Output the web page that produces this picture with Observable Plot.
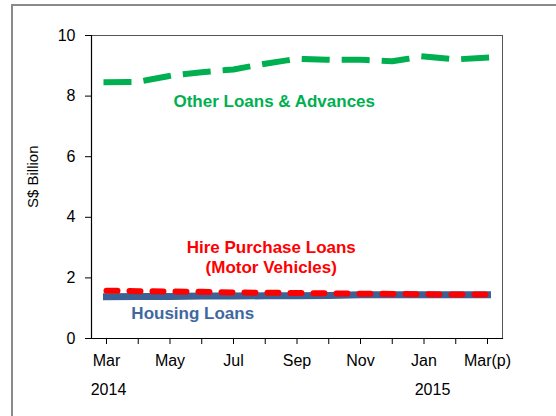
<!DOCTYPE html>
<html>
<head>
<meta charset="utf-8">
<script src="https://cdn.jsdelivr.net/npm/d3@7"></script>
<script src="https://cdn.jsdelivr.net/npm/@observablehq/plot@0.6"></script>
<style>
  html, body { margin: 0; padding: 0; background: #fff; overflow: hidden; }
  #wrap { position: relative; width: 556px; height: 416px; overflow: hidden; }
  #border { position: absolute; left: 11px; top: 4px; width: 620px; height: 520px;
            border: 2px solid #8a8a8a; box-sizing: border-box; }
  #chart { position: absolute; left: 0; top: 0; }
</style>
</head>
<body>
<div id="wrap"><div id="border"></div><div id="chart"></div></div>
<script>
const months = ["Mar","Apr","May","Jun","Jul","Aug","Sep","Oct","Nov","Dec","Jan","Feb","Mar(p)"];
const tickLabels = ["Mar","","May","","Jul","","Sep","","Nov","","Jan","","Mar(p)"];
const otherLoans   = [8.46, 8.47, 8.67, 8.79, 8.88, 9.07, 9.23, 9.20, 9.20, 9.15, 9.31, 9.21, 9.27];
const hirePurchase = [1.58, 1.56, 1.55, 1.54, 1.52, 1.51, 1.50, 1.49, 1.48, 1.47, 1.46, 1.45, 1.45];
const housing      = [1.38, 1.39, 1.39, 1.40, 1.40, 1.41, 1.41, 1.42, 1.44, 1.44, 1.44, 1.44, 1.44];
const yTicks = [0, 2, 4, 6, 8, 10];
const years = ["2014", "2015"];
const yearMonthIndex = [0, 10];

const idx = d3.range(months.length);
const font = "'Liberation Sans', Arial, sans-serif";

const chart = Plot.plot({
  width: 556,
  height: 416,
  marginLeft: 91,
  marginRight: 54,
  marginTop: 35,
  marginBottom: 78,
  x: { type: "linear", domain: [-0.472, months.length - 1 + 0.472] },
  y: { domain: [0, 10] },
  style: { fontFamily: font, fontSize: "16px", color: "#000", background: "transparent" },
  marks: [
    Plot.frame({ stroke: "#555", strokeWidth: 1 }),
    Plot.frame({ anchor: "left", stroke: "#000", strokeWidth: 1.2 }),
    Plot.frame({ anchor: "bottom", stroke: "#000", strokeWidth: 1.2 }),
    Plot.axisY({ ticks: yTicks, tickSize: 6, tickPadding: 10, label: null, fontSize: 16 }),
    Plot.axisX({ ticks: idx, tickFormat: i => tickLabels[i], tickSize: 6, tickPadding: 10, label: null, fontSize: 16 }),
    Plot.text(["S$ Billion"], { frameAnchor: "left", rotate: -90, dx: -58, dy: 21, fontSize: 15, text: d => d }),
    Plot.text([years[0]], { x: () => yearMonthIndex[0], frameAnchor: "bottom", dy: 56, dx: 2, text: d => d, fontSize: 16 }),
    Plot.text([years[1]], { x: () => yearMonthIndex[1], frameAnchor: "bottom", dy: 56, dx: 8.5, text: d => d, fontSize: 16 }),
    Plot.line(idx, { x: i => i, y: i => housing[i], stroke: "#3c6195", strokeWidth: 7, strokeLinecap: "square" }),
    Plot.line(idx, { x: i => i, y: i => hirePurchase[i], stroke: "#ff0000", strokeWidth: 6, strokeLinecap: "round", strokeDasharray: "11,12" }),
    Plot.line(idx, { x: i => i, y: i => otherLoans[i], stroke: "#00b050", strokeWidth: 6, strokeLinecap: "square", strokeDasharray: "22,18" }),
    Plot.text([5], { x: d => d, y: d => otherLoans[d], dx: 9, dy: 38, text: () => "Other Loans & Advances", fill: "#00b050", fontWeight: "bold", fontSize: 17 }),
    Plot.text([5], { x: d => d, y: d => hirePurchase[d], dx: 6, dy: -36, text: () => "Hire Purchase Loans\n(Motor Vehicles)", lineHeight: 1.18, fill: "#ff0000", fontWeight: "bold", fontSize: 17 }),
    Plot.text([3], { x: d => d, y: d => housing[d], dx: -9, dy: 17, text: () => "Housing Loans", fill: "#3f68a0", fontWeight: "bold", fontSize: 17 })
  ]
});
document.getElementById("chart").appendChild(chart);
</script>
</body>
</html>
